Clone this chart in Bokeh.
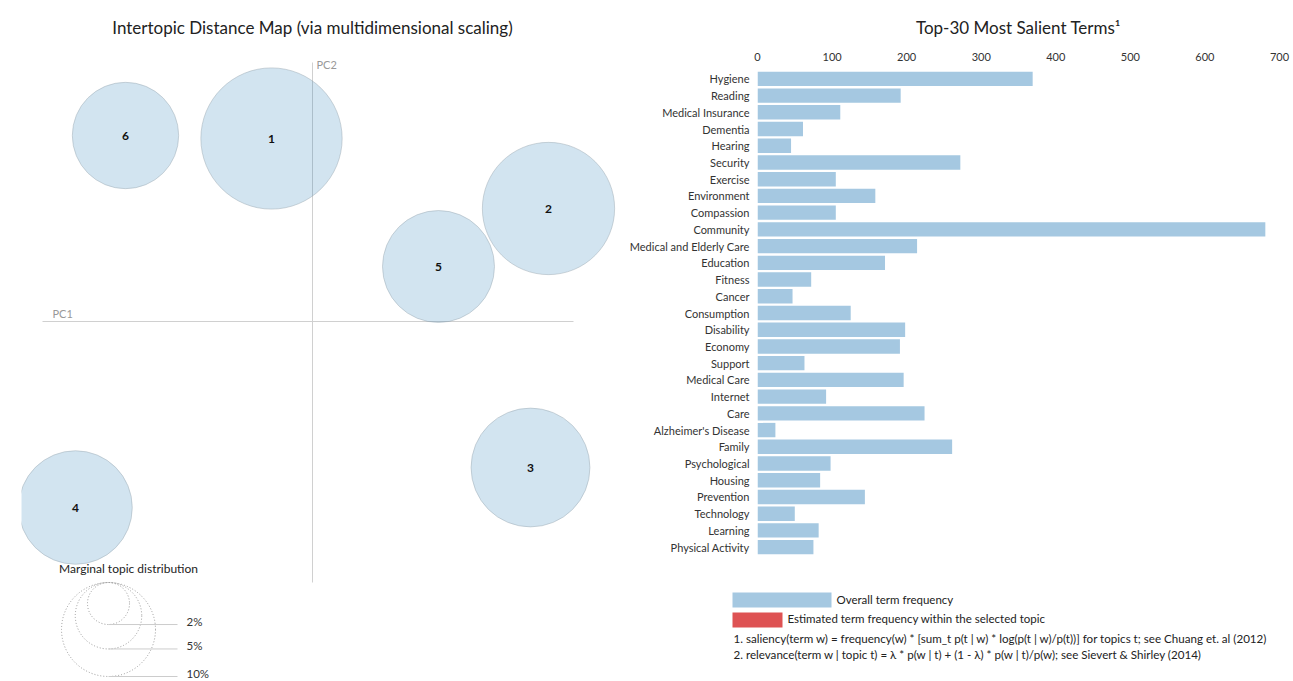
import numpy as np
from bokeh.plotting import figure
from bokeh.models import Range1d, FactorRange
from bokeh.layouts import row, column
from bokeh.embed import file_html
from bokeh.resources import INLINE
from bokeh.core.properties import value

FONT = "Lato"

# ---------------- data ----------------
topics = ["1", "2", "3", "4", "5", "6"]
topic_pc1 = [-0.041, 0.236, 0.218, -0.237, 0.126, -0.187]
topic_pc2 = [0.183, 0.113, -0.146, -0.186, 0.055, 0.186]
topic_share = [22.6, 19.8, 16.0, 14.6, 14.2, 12.8]   # marginal topic distribution, %

legend_shares = [2, 5, 10]
legend_labels = ["2%", "5%", "10%"]

terms = ["Hygiene", "Reading", "Medical Insurance", "Dementia", "Hearing", "Security",
         "Exercise", "Environment", "Compassion", "Community", "Medical and Elderly Care",
         "Education", "Fitness", "Cancer", "Consumption", "Disability", "Economy", "Support",
         "Medical Care", "Internet", "Care", "Alzheimer's Disease", "Family", "Psychological",
         "Housing", "Prevention", "Technology", "Learning", "Physical Activity"]
term_freq = [369, 192, 111, 61, 45, 272, 105, 158, 105, 681, 214, 171, 72, 47, 125, 198,
             191, 63, 196, 92, 224, 24, 261, 98, 84, 144, 50, 82, 75]
freq_ticks = [0, 100, 200, 300, 400, 500, 600, 700]

# ---------------- left: intertopic distance map ----------------
R10 = 0.047  # radius (data units) of a 10% topic
MAP_X = (-0.270, 0.261)
MAP_Y = (-0.261, 0.259)

left = figure(width=620, height=681, x_range=Range1d(-0.291, 0.308), y_range=Range1d(-0.360, 0.321),
              x_axis_type=None, y_axis_type=None, output_backend="svg", toolbar_location=None,
              min_border_left=21, min_border_right=0, min_border_top=0, min_border_bottom=0)
left.outline_line_color = None
left.grid.visible = False

left.segment(x0=[MAP_X[0], 0], y0=[0, MAP_Y[0]], x1=[MAP_X[1], 0], y1=[0, MAP_Y[1]],
             line_color="#d0d0d0", line_width=1)
left.text(x=[MAP_X[0] + 0.010, 0.004], y=[0.008, MAP_Y[1] - 0.002], text=["PC1", "PC2"],
          text_font=value(FONT), text_font_size="11px", text_color="#999999",
          text_baseline="middle", text_align="left")

radii = [R10 * np.sqrt(s / 10.0) for s in topic_share]
left.circle(x=topic_pc1, y=topic_pc2, radius=radii, fill_color="#1f77b4", fill_alpha=0.2,
            line_color="#9aa6b0", line_alpha=0.45, line_width=1)
left.text(x=topic_pc1, y=topic_pc2, text=topics, text_font=value(FONT), text_font_size="12px",
          text_font_style="bold", text_color="#111111", text_align="center", text_baseline="middle")

left.text(x=[0.0], y=[0.294], text=["Intertopic Distance Map (via multidimensional scaling)"],
          text_font=value(FONT), text_font_size="17px", text_color="#222222",
          text_align="center", text_baseline="middle")

# size legend
LX, LTOP = -0.204, -0.261
lr = [R10 * np.sqrt(s / 10.0) for s in legend_shares]
lbottom = [LTOP - 2 * r for r in lr]
left.text(x=[-0.184], y=[-0.247], text=["Marginal topic distribution"], text_font=value(FONT),
          text_font_size="12px", text_color="#222222", text_align="center", text_baseline="middle")
left.circle(x=[LX] * 3, y=[LTOP - r for r in lr], radius=lr, fill_color=None,
            line_color="#999999", line_dash="1 2", line_width=1)
left.segment(x0=[LX] * 3, y0=lbottom, x1=[-0.135] * 3, y1=lbottom, line_color="#cccccc", line_width=1)
left.text(x=[-0.126] * 3, y=lbottom, text=legend_labels, text_font=value(FONT), y_offset=-3,
          text_font_size="11.5px", text_color="#333333", text_align="left", text_baseline="middle")

# ---------------- right: top-30 salient terms ----------------
bars = figure(width=673, height=560, y_range=FactorRange(factors=terms[::-1]), x_range=Range1d(0, 700),
              x_axis_location="above", output_backend="svg", toolbar_location=None,
              min_border_left=137, min_border_right=14, min_border_top=70, min_border_bottom=5,
              title="Top-30 Most Salient Terms\u00b9")
bars.outline_line_color = None
bars.grid.visible = False
bars.hbar(y=terms, right=term_freq, left=0, height=0.86, fill_color="#a5c8e1", line_color=None)

bars.title.text_font = FONT
bars.title.text_font_size = "17px"
bars.title.text_font_style = "normal"
bars.title.text_color = "#222222"
bars.title.align = "center"
bars.title.standoff = 24

for ax in bars.axis:
    ax.axis_line_color = None
    ax.major_tick_line_color = None
    ax.minor_tick_line_color = None
    ax.major_tick_out = 0
    ax.major_tick_in = 0
    ax.major_label_text_font = FONT
    ax.major_label_text_color = "#333333"
    ax.major_label_standoff = 8
bars.xaxis.ticker = freq_ticks
bars.xaxis.major_label_standoff = 10
bars.xaxis.major_label_text_font_size = "11px"
bars.yaxis.major_label_text_font_size = "11px"

# ---------------- right bottom: legend & footnotes ----------------
leg = figure(width=673, height=121, x_range=Range1d(0, 673), y_range=Range1d(121, 0),
             x_axis_type=None, y_axis_type=None, output_backend="svg", toolbar_location=None,
             min_border=0)
leg.frame_align = False
leg.outline_line_color = None
leg.grid.visible = False
leg.quad(left=[112, 112], right=[211, 162], top=[32, 52], bottom=[47, 67],
         fill_color=["#a5c8e1", "#de5253"], line_color=None)
leg.text(x=[216, 167], y=[39, 58], text=["Overall term frequency",
                                          "Estimated term frequency within the selected topic"],
         text_font=value(FONT), text_font_size="11.5px", text_color="#222222", text_baseline="middle")
leg.text(x=[113, 113], y=[78, 94],
         text=["1. saliency(term w) = frequency(w) * [sum_t p(t | w) * log(p(t | w)/p(t))] for topics t; see Chuang et. al (2012)",
               "2. relevance(term w | topic t) = \u03bb * p(w | t) + (1 - \u03bb) * p(w | t)/p(w); see Sievert & Shirley (2014)"],
         text_font=value(FONT), text_font_size="11.6px", text_color="#222222", text_baseline="middle")

layout = row(left, column(bars, leg, spacing=0), spacing=0)
open("out.html", "w").write(file_html(layout, INLINE))
